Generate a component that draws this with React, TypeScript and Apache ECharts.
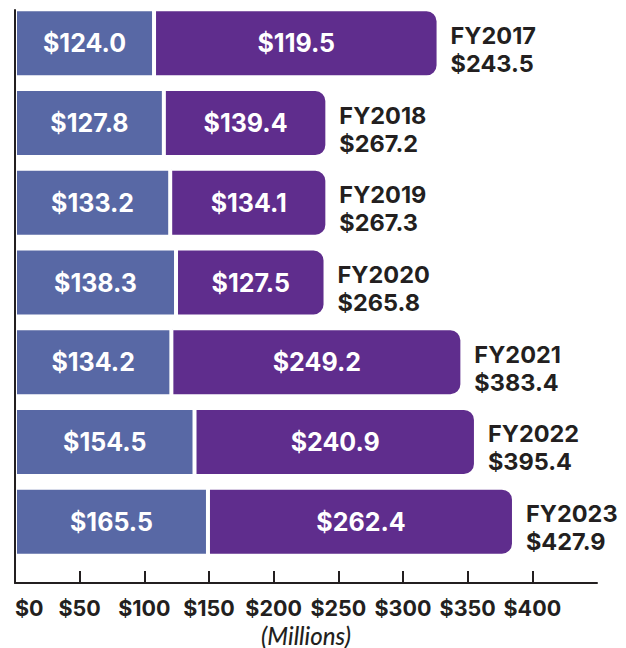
import React, { useEffect, useRef } from "react";
import * as echarts from "echarts";

// Categories (top to bottom)
const categories = ["FY2017", "FY2018", "FY2019", "FY2020", "FY2021", "FY2022", "FY2023"];
// Values printed in the segments and totals
const blueLabels = [124.0, 127.8, 133.2, 138.3, 134.2, 154.5, 165.5];
const purpleLabels = [119.5, 139.4, 134.1, 127.5, 249.2, 240.9, 262.4];
const totalLabels = [243.5, 267.2, 267.3, 265.8, 383.4, 395.4, 427.9];
// Segment lengths as drawn against the axis
const blueBarLength = [107.5, 115.1, 120.0, 124.5, 120.9, 138.8, 149.2];
const purpleBarLength = [220.0, 126.4, 121.5, 115.6, 225.0, 217.6, 236.6];
// Axis ticks
const axisMin = 0;
const axisMax = 450;
const axisInterval = 50;

const BLUE = "#5868a5";
const PURPLE = "#5f2d8d";
const DARK = "#231f20";
const FONT = "Inter";

const money = (v: number) => "$" + v.toFixed(1);

export default function App() {
  const ref = useRef<HTMLDivElement>(null);
  useEffect(() => {
    document.body.style.margin = "0";
    const chart = echarts.init(ref.current!, null, { renderer: "svg" });
    const totals = blueBarLength.map((b, i) => b + purpleBarLength[i]);
    const barWidth = 68;
    const insideLabel = (arr: number[]) => ({
      show: true,
      position: "inside",
      color: "#ffffff",
      fontFamily: FONT,
      fontWeight: "bold",
      fontSize: 25,
      formatter: (p: any) => money(arr[p.dataIndex]),
    });
    chart.setOption({
      animation: false,
      grid: [
        { left: 15, width: 582, top: 3.5, height: 558, containLabel: false, outerBoundsMode: "none" },
        { left: 15, width: 582, top: 10, height: 573, containLabel: false, outerBoundsMode: "none" },
      ],
      xAxis: [
        { gridIndex: 0, type: "value", min: axisMin, max: axisMax, interval: axisInterval, show: false },
        {
          gridIndex: 1,
          type: "value",
          min: axisMin,
          max: axisMax,
          interval: axisInterval,
          z: 10,
          axisLine: { show: true, lineStyle: { color: DARK, width: 2 } },
          axisTick: { show: true, inside: true, length: 12, lineStyle: { color: DARK, width: 2 } },
          splitLine: { show: false },
          axisLabel: {
            show: true,
            margin: 14,
            color: DARK,
            fontFamily: FONT,
            fontWeight: "bold",
            fontSize: 21.5,
            showMaxLabel: false,
            alignMinLabel: "left",
            formatter: (v: number) => (v > 400 ? "" : "$" + v),
          },
          name: "(Millions)",
          nameLocation: "middle",
          nameGap: 35,
          nameTextStyle: {
            color: DARK,
            fontFamily: "Lato",
            fontStyle: "italic",
            fontWeight: 500,
            fontSize: 24,
            lineHeight: 24,
          },
        },
      ],
      yAxis: [
        { gridIndex: 0, type: "category", data: categories, inverse: true, show: false },
        {
          gridIndex: 1,
          type: "value",
          z: 10,
          axisLine: { show: true, lineStyle: { color: DARK, width: 2 } },
          axisTick: { show: false },
          axisLabel: { show: false },
          splitLine: { show: false },
        },
      ],
      series: [
        {
          type: "bar",
          xAxisIndex: 0,
          yAxisIndex: 0,
          stack: "a",
          barWidth,
          barGap: "-100%",
          data: blueBarLength,
          itemStyle: { color: BLUE, borderColor: "#ffffff", borderWidth: 2 },
          label: insideLabel(blueLabels),
          silent: true,
        },
        {
          type: "bar",
          xAxisIndex: 0,
          yAxisIndex: 0,
          stack: "a",
          barWidth,
          barGap: "-100%",
          data: purpleBarLength,
          itemStyle: { color: PURPLE, borderColor: "#ffffff", borderWidth: 2, borderRadius: [0, 11, 11, 0] },
          label: insideLabel(purpleLabels),
          silent: true,
        },
        {
          type: "bar",
          xAxisIndex: 0,
          yAxisIndex: 0,
          barWidth,
          barGap: "-100%",
          data: totals,
          itemStyle: { color: "rgba(0,0,0,0)" },
          silent: true,
          z: 1,
          label: {
            show: true,
            position: "right",
            distance: 12,
            offset: [0, 6],
            align: "left",
            color: DARK,
            fontFamily: FONT,
            fontWeight: "bold",
            fontSize: 23.5,
            lineHeight: 28,
            formatter: (p: any) => categories[p.dataIndex] + "\n" + money(totalLabels[p.dataIndex]),
          },
        },
      ],
    });
    return () => chart.dispose();
  }, []);
  return <div ref={ref} style={{ width: 626, height: 648 }} />;
}
